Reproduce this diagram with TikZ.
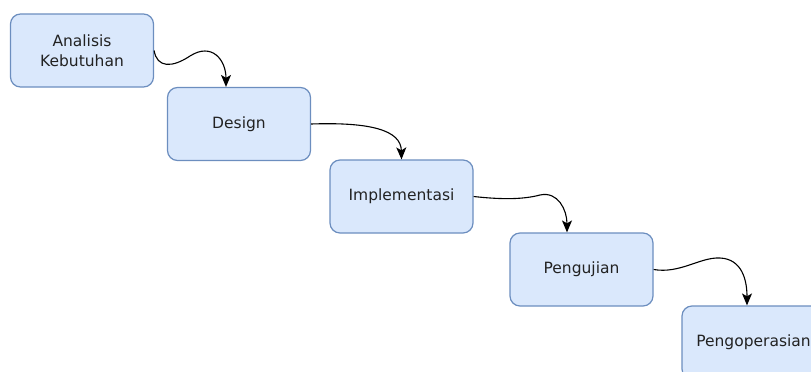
\documentclass[tikz,border=0pt]{standalone}
\usepackage{fontspec}
\setmainfont{DejaVu Sans}
\usetikzlibrary{arrows.meta}
\definecolor{boxfill}{HTML}{DAE8FC}
\definecolor{boxline}{HTML}{6C8EBF}
\definecolor{txt}{HTML}{222222}
\begin{document}
\begin{tikzpicture}[x=1pt,y=-1pt,
  phase/.style={draw=boxline, fill=boxfill, line width=1.2pt, rounded corners=10pt,
    minimum width=143pt, minimum height=73pt, inner sep=0pt, align=center,
    text=txt, font=\fontsize{15.5}{20}\selectfont},
  flow/.style={draw=black, line width=1.1pt, -{Stealth[length=12pt,width=10pt,inset=3pt]}}]
\useasboundingbox (0,0) rectangle (811,372);
\clip (0,0) rectangle (811,372);

% waterfall phases
\node[phase] (n1) at (82,50.5) {Analisis\\Kebutuhan};
\node[phase] (n2) at (239,124) {Design};
\node[phase] (n3) at (401.5,196.5) {Implementasi};
\node[phase] (n4) at (581.5,269.5) {Pengujian};
\node[phase] (n5) at (753.5,342.5) {Pengoperasian};

% curved connectors between consecutive phases
\draw[flow] (n1.east) .. controls (157,68) and (172,68) .. (190,56)
  .. controls (212,42) and (226,60) .. ([xshift=-13pt]n2.north);
\draw[flow] (n2.east) .. controls (370,122) and (401,130) .. (n3.north);
\draw[flow] (n3.east) .. controls (505,200) and (525,199) .. (540,195)
  .. controls (558,191) and (567,210) .. ([xshift=-14.5pt]n4.north);
\draw[flow] (n4.east) .. controls (680,274) and (700,257) .. (720,258)
  .. controls (742,259) and (747,280) .. ([xshift=-6.5pt]n5.north);
\end{tikzpicture}
\end{document}
